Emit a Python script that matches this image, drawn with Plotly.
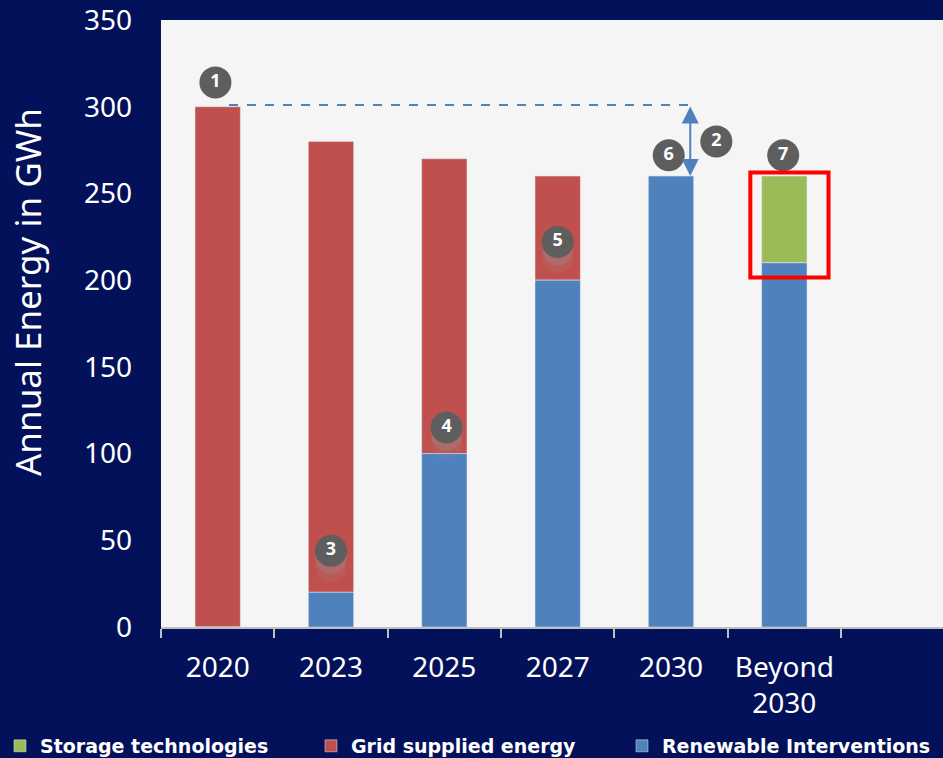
import plotly.graph_objects as go

categories = ["2020", "2023", "2025", "2027", "2030", "Beyond<br>2030"]
renewable = [0, 20, 100, 200, 260, 210]
grid = [300, 260, 170, 60, 0, 0]
storage = [0, 0, 0, 0, 0, 50]
y_ticks = [0, 50, 100, 150, 200, 250, 300, 350]

# numbered markers: label, x index, y value
marker_labels = ["1", "2", "3", "4", "5", "6", "7"]
marker_x = [-0.02, 4.4, 1, 2.02, 3.0, 3.98, 4.99]
marker_y = [314, 280, 44, 115, 222, 272, 272]

NAVY = "#03115A"
RED = "#C0504D"
BLUE = "#4F81BD"
GREEN = "#9BBB59"

xs = list(range(len(categories)))
fig = go.Figure()
fig.add_bar(x=xs, y=storage, name="Storage technologies", marker_color=GREEN,
            width=0.4, legendrank=1, base=[r + g for r, g in zip(renewable, grid)])
fig.add_bar(x=xs, y=grid, name="Grid supplied energy", marker_color=RED,
            width=0.4, legendrank=2, base=renewable)
fig.add_bar(x=xs, y=renewable, name="Renewable Interventions", marker_color=BLUE,
            width=0.4, legendrank=3)

# faded shadows under markers 3,4,5
for i in (2, 3, 4):
    for k, op in ((1, 0.3), (2, 0.15)):
        fig.add_scatter(x=[marker_x[i]], y=[marker_y[i] - 4.5 * k], mode="markers",
                        marker=dict(size=31, color="rgba(150,150,150,%s)" % op),
                        showlegend=False, hoverinfo="skip")

fig.add_scatter(x=marker_x, y=marker_y, mode="markers+text", text=marker_labels,
                textposition="middle center",
                textfont=dict(color="white", size=18, family="Open Sans", weight="bold"),
                marker=dict(size=32, color="#5E5E5E"), showlegend=False, hoverinfo="skip")

# dashed line from top of 2020 bar to arrow
arrow_x = 4.17
top2020 = renewable[0] + grid[0]
top2030 = renewable[4] + grid[4]
fig.add_shape(type="line", x0=0.1, x1=arrow_x, y0=top2020 + 1, y1=top2020 + 1,
              line=dict(color=BLUE, width=2, dash="dash"))
fig.add_annotation(x=arrow_x, y=top2030, ax=arrow_x, ay=top2020 + 1, axref="x", ayref="y",
                   xref="x", yref="y", showarrow=True, arrowside="end+start",
                   arrowhead=2, arrowsize=1.7, arrowwidth=2, arrowcolor=BLUE, text="")

# highlight box around storage segment
fig.add_shape(type="rect", x0=4.7, x1=5.39, y0=201.5, y1=262,
              line=dict(color="#FF0000", width=4))

# y-axis title
fig.add_annotation(text="Annual Energy in GWh", xref="paper", yref="paper",
                   x=-0.170, y=0.552, xanchor="center", yanchor="middle",
                   textangle=-90, showarrow=False,
                   font=dict(size=35, color="white", family="Noto Sans"))

fig.update_layout(
    width=943, height=758,
    margin=dict(l=161, r=0, t=20, b=131, autoexpand=False),
    paper_bgcolor=NAVY, plot_bgcolor="#F5F5F5",
    barmode="overlay",
    font=dict(family="Noto Sans", color="white"),
    showlegend=True,
    legend=dict(orientation="h", x=-0.2059, y=-0.196, xanchor="left", yanchor="middle",
                font=dict(size=19, color="white", family="DejaVu Sans", weight="bold"),
                entrywidth=266, entrywidthmode="pixels", itemwidth=30,
                bgcolor="rgba(0,0,0,0)"),
    xaxis=dict(range=[-0.5, 6.4], tickvals=xs, ticktext=categories, ticks="",
               tickfont=dict(size=28, color="white"), showgrid=False, zeroline=False,
               showline=True, linecolor="#BFBFBF", linewidth=2, ticklabelstandoff=14,
               minor=dict(tickvals=[i - 0.5 for i in range(len(categories) + 1)],
                          ticks="outside", ticklen=9, tickcolor="#BFBFBF", tickwidth=2)),
    yaxis=dict(range=[0, 350], tickvals=y_ticks, showgrid=False, zeroline=False,
               tickfont=dict(size=28, color="white"), ticks="", ticklabelstandoff=28,
               ticklabeloverflow="allow"),
)
fig.write_html("out.html", post_script="document.body.style.margin='0';",
               config={"displayModeBar": False})
